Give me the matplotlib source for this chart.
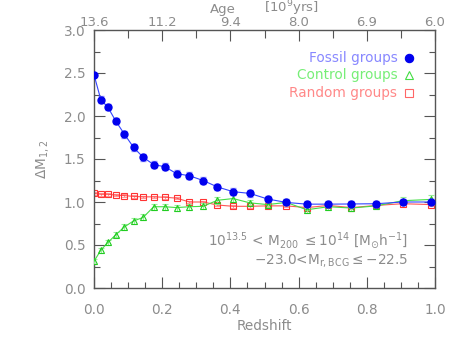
"""Magnitude gap Delta M_1,2 versus redshift for fossil, control and random groups."""

import matplotlib.pyplot as plt
from matplotlib.ticker import MultipleLocator

# Millennium snapshot redshifts
redshift = [0.0, 0.020, 0.041, 0.064, 0.089, 0.116, 0.144, 0.175, 0.208, 0.242,
            0.280, 0.320, 0.362, 0.408, 0.457, 0.509, 0.564, 0.624, 0.687, 0.755,
            0.828, 0.905, 0.989]

fossil = [2.48, 2.19, 2.10, 1.94, 1.79, 1.635, 1.52, 1.435, 1.41, 1.33,
          1.305, 1.25, 1.175, 1.12, 1.10, 1.035, 0.995, 0.975, 0.975, 0.977,
          0.98, 1.00, 1.00]
fossil_err = [0.0, 0.04, 0.035, 0.035, 0.04, 0.04, 0.04, 0.04, 0.04, 0.04,
              0.04, 0.04, 0.04, 0.04, 0.04, 0.035, 0.035, 0.035, 0.035, 0.035,
              0.035, 0.03, 0.03]

control = [0.31, 0.44, 0.53, 0.62, 0.71, 0.78, 0.82, 0.945, 0.945, 0.935,
           0.945, 0.95, 1.02, 1.04, 0.99, 0.97, 0.995, 0.91, 0.945, 0.93,
           0.955, 1.015, 1.03]
control_err = [0.03, 0.03, 0.03, 0.03, 0.03, 0.03, 0.035, 0.035, 0.035, 0.035,
               0.035, 0.035, 0.04, 0.04, 0.035, 0.035, 0.035, 0.035, 0.035, 0.035,
               0.035, 0.04, 0.05]

random_grp = [1.10, 1.09, 1.09, 1.08, 1.075, 1.065, 1.06, 1.06, 1.055, 1.045,
              1.00, 1.00, 0.965, 0.95, 0.95, 0.955, 0.955, 0.935, 0.96, 0.935,
              0.96, 0.98, 0.97]
random_err = [0.015] * 23

age_labels = ["13.6", "11.2", "9.4", "8.0", "6.9", "6.0"]
age_ticks = [0.0, 0.2, 0.4, 0.6, 0.8, 1.0]

GREY = "#8c8c8c"
AXC = "#555555"

plt.rcParams["font.family"] = ["DejaVu Sans"]
plt.rcParams["font.size"] = 9.8

fig = plt.figure(figsize=(4.63, 3.48), dpi=100)
ax = fig.add_axes([94 / 463, 1 - 288 / 348, 341 / 463, 258 / 348])

ax.errorbar(redshift, random_grp, yerr=random_err, color="#ff5555", lw=0.8,
            marker="s", ms=4.5, mfc="none", mec="#ff3333", mew=0.8,
            ecolor="#ff9999", elinewidth=0.8, capsize=2.5, zorder=2)
ax.errorbar(redshift, control, yerr=control_err, color="#44dd44", lw=0.8,
            marker="^", ms=4.5, mfc="none", mec="#22cc22", mew=0.8,
            ecolor="#99ee99", elinewidth=0.8, capsize=2.5, zorder=3)
ax.errorbar(redshift, fossil, yerr=fossil_err, color="#3344ff", lw=0.8,
            marker="o", ms=5, mfc="#0000ee", mec="#0000ee",
            ecolor="#9999ff", elinewidth=0.8, capsize=2.5, zorder=4)

ax.set_xlim(0, 1.0)
ax.set_ylim(0, 3.0)
ax.xaxis.set_major_locator(MultipleLocator(0.2))
ax.xaxis.set_minor_locator(MultipleLocator(0.05))
ax.yaxis.set_major_locator(MultipleLocator(0.5))
ax.yaxis.set_minor_locator(MultipleLocator(0.25))
ax.xaxis.set_major_formatter(plt.FormatStrFormatter("%.1f"))
ax.yaxis.set_major_formatter(plt.FormatStrFormatter("%.1f"))
ax.tick_params(which="both", direction="in", right=True, top=False,
               colors=AXC, labelcolor=GREY)
ax.tick_params(which="major", length=8, width=0.8)
ax.tick_params(axis="x", which="major", pad=11)
ax.tick_params(axis="y", which="major", pad=6)
ax.tick_params(which="minor", length=4, width=0.8)
for sp in ax.spines.values():
    sp.set_color(AXC)
    sp.set_linewidth(1.0)

ax.set_xlabel("Redshift", color=GREY, labelpad=1)
ax.set_ylabel(r"$\Delta$M$_{1,2}$", color=GREY, labelpad=9)

top = ax.twiny()
top.set_xlim(ax.get_xlim())
top.set_xticks(age_ticks)
top.set_xticklabels(age_labels)
top.xaxis.set_minor_locator(MultipleLocator(0.1))
top.tick_params(which="both", direction="in", colors=AXC, labelcolor=GREY, pad=0.5)
top.tick_params(which="major", length=8, width=0.8, labelsize=9.5)
top.tick_params(which="minor", length=6, width=0.8)
for sp in top.spines.values():
    sp.set_visible(False)
fig.text(223 / 463, 1 - 12.5 / 348, "Age", ha="center", va="baseline", color=GREY,
         fontsize=9.5)
fig.text(291 / 463, 1 - 12.5 / 348, r"[10$^9$yrs]", ha="center", va="baseline",
         color=GREY, fontsize=9.5)

# legend-like labels
leg = [("Fossil groups", "#8888ff", "o", "#0000ee", "#0000ee"),
       ("Control groups", "#77ee77", "^", "none", "#44dd44"),
       ("Random groups", "#ff8888", "s", "none", "#ff6666")]
for i, (lab, tc, mk, fc, ec) in enumerate(leg):
    yy = 0.891 - i * 0.067
    ax.text(0.89, yy, lab, transform=ax.transAxes, ha="right", va="center",
            color=tc)
    ax.plot([0.925], [yy], transform=ax.transAxes, marker=mk, ms=6 if mk == "o" else 5.5,
            mfc=fc, mec=ec, mew=0.8, ls="none", clip_on=False)

ax.text(0.92, 0.182,
        r"10$^{13.5}$ < M$_{200}$ $\leq$10$^{14}$ [M$_{\odot}$h$^{-1}$]",
        transform=ax.transAxes, ha="right", va="center", color=GREY)
ax.text(0.92, 0.107, r"$-$23.0<M$_{\rm r,BCG}$$\leq$$-$22.5",
        transform=ax.transAxes, ha="right", va="center", color=GREY)

fig.savefig("out.png", dpi=100)
